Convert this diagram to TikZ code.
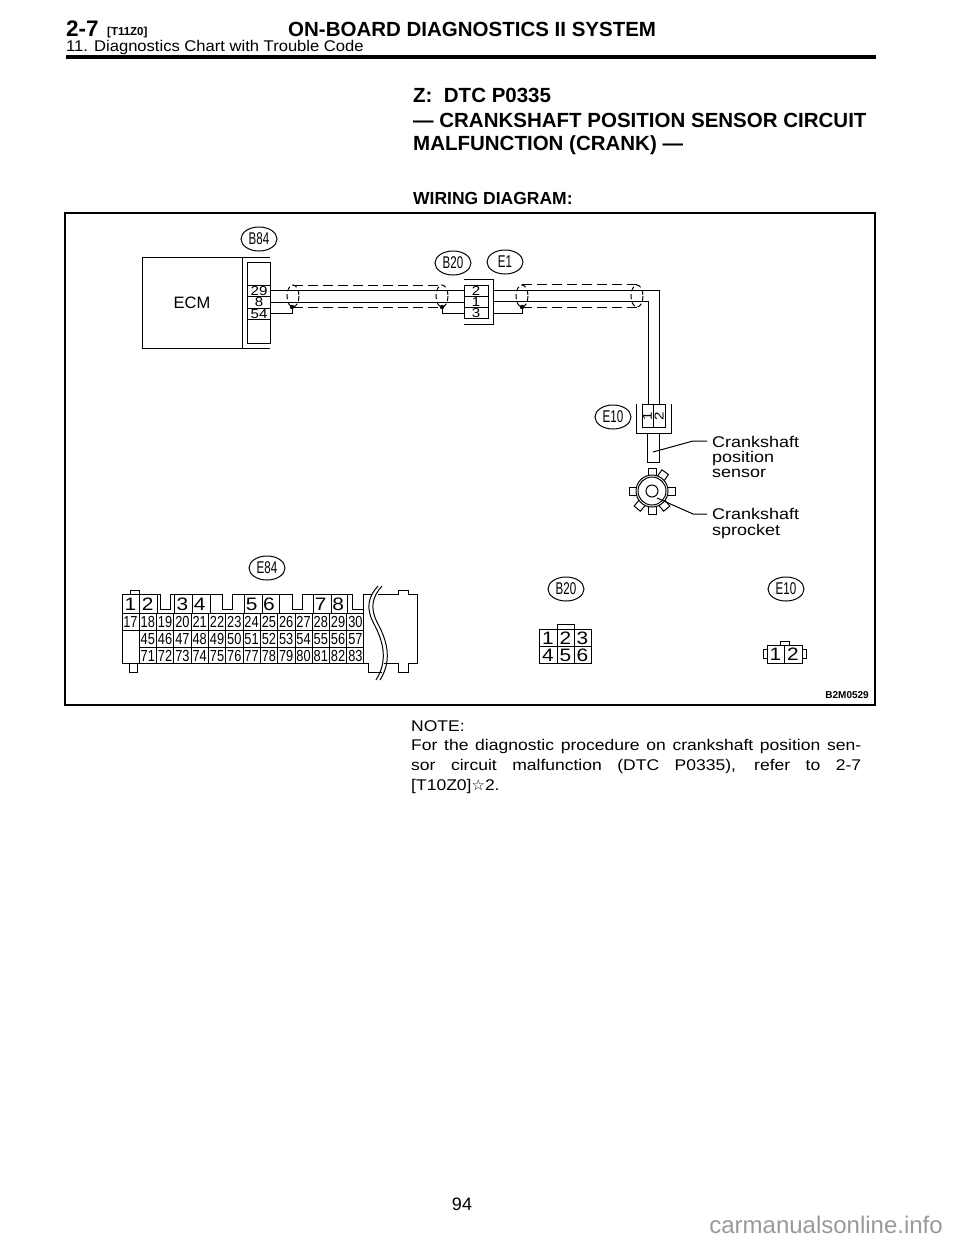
\documentclass[tikz,border=0pt]{standalone}
\usepackage{fontspec}
\setmainfont{Liberation Sans}
\newfontfamily\widefont[FakeStretch=1.16]{Liberation Sans}
\newfontfamily\pinfont[FakeStretch=0.8]{Liberation Sans}
\newfontfamily\tagfont[FakeStretch=0.68]{Liberation Sans}
\newfontfamily\notefont[FakeStretch=1.13]{Liberation Sans}
\newfontfamily\subfont[FakeStretch=1.07]{Liberation Sans}
\newfontfamily\symfont{DejaVu Sans}
\usetikzlibrary{shapes.geometric}
\tikzset{
  wire/.style={line width=1pt},
  shield/.style={line width=1pt, dash pattern=on 10pt off 5pt},
  shieldring/.style={line width=1pt, dash pattern=on 5pt off 3pt},
  tagoval/.style={draw, ellipse, line width=1pt, minimum width=36pt, minimum height=24pt, inner sep=0pt, font=\tagfont\fontsize{17}{17}\selectfont},
  pinlabel/.style={anchor=base, inner sep=0pt, font=\pinfont\fontsize{16}{16}\selectfont},
  ecmlabel/.style={anchor=base, inner sep=0pt, font=\widefont\fontsize{13}{13}\selectfont},
  biglabel/.style={anchor=base, inner sep=0pt, font=\widefont\fontsize{18}{18}\selectfont},
  sidetext/.style={anchor=base west, inner sep=0pt, font=\widefont\fontsize{15.5}{15}\selectfont},
  headtext/.style={anchor=base west, inner sep=0pt, font=\bfseries\fontsize{20.5}{20}\selectfont},
  notetext/.style={anchor=base west, inner sep=0pt, font=\notefont\fontsize{15.5}{15}\selectfont},
}
\begin{document}
\begin{tikzpicture}[x=1pt, y=-1pt]
\useasboundingbox (0,0) rectangle (960,1242);
% page head
\node[anchor=base west, inner sep=0pt, font=\bfseries\fontsize{22.5}{22}\selectfont] (secnum) at (66,36) {2-7};
\node[anchor=base west, inner sep=0pt, font=\bfseries\fontsize{11.5}{11}\selectfont] (secref) at (107,35) {[T11Z0]};
\node[headtext] (headline) at (288,36) {ON-BOARD DIAGNOSTICS II SYSTEM};
\node[anchor=base west, inner sep=0pt, font=\subfont\fontsize{15.5}{15}\selectfont] (subhead) at (66,51) {11. Diagnostics Chart with Trouble Code};
\draw[line width=3.5pt] (66,57) -- (876,57);
\node[headtext] (ztitle) at (413,102) {Z:\ \ DTC P0335};
\node[headtext] (ztitleb) at (413,127) {— CRANKSHAFT POSITION SENSOR CIRCUIT};
\node[headtext] (ztitlec) at (413,150) {MALFUNCTION (CRANK) —};
\node[anchor=base west, inner sep=0pt, font=\bfseries\fontsize{17.5}{17}\selectfont] (wirehead) at (413,204) {WIRING DIAGRAM:};
\draw[line width=1.2pt] (65,213) rectangle (875,705);
% ecm
\draw[wire] (270,257) -- (142,257) -- (142,348) -- (270,348);
\draw[wire] (242,257) -- (242,348);
\draw[wire] (247,262) rectangle (270,343);
\draw[wire] (247,285) -- (270,285);
\draw[wire] (247,296) -- (270,296);
\draw[wire] (247,308) -- (270,308);
\draw[wire] (247,319) -- (270,319);
\node[font=\fontsize{16.5}{15}\selectfont, inner sep=0pt] (ecm) at (192,303) {ECM};
\node[ecmlabel] (ecmp) at (259,295) {29};
\node[ecmlabel] (ecmq) at (259,306.5) {8};
\node[ecmlabel] (ecmr) at (259,318) {54};
\node[tagoval] (tagb) at (259,239) {B84};
\node[tagoval] (tagc) at (453,263) {B20};
\node[tagoval] (tagd) at (505,262) {E1};
\node[tagoval] (tage) at (613,417) {E10};
% harness
\coordinate (ecmtop) at (270,290);
\coordinate (ecmmid) at (270,302);
\coordinate (ecmlow) at (270,313);
\coordinate (jointop) at (464,290);
\coordinate (joinmid) at (464,302);
\coordinate (joinlow) at (464,313);
\draw[wire] (ecmtop) -- (jointop);
\draw[wire] (ecmmid) -- (joinmid);
\draw[wire] (ecmlow) -- (292,313) -- (292,307);
\draw[fill] (292,307) circle (2pt);
\draw[wire] (joinlow) -- (442,313) -- (442,307);
\draw[fill] (442,307) circle (2pt);
\draw[shield] (293,285) -- (440,285);
\draw[shield] (293,307) -- (440,307);
\draw[shieldring] (293,296) ellipse (6 and 11);
\draw[shieldring] (442,296) ellipse (6 and 11);
% joint
\draw[wire] (464,279) -- (493,279) -- (493,324) -- (464,324);
\draw[wire] (464,285) rectangle (488,318);
\draw[wire] (464,296) -- (488,296);
\draw[wire] (464,307) -- (488,307);
\node[ecmlabel] (joina) at (476,295) {2};
\node[ecmlabel] (joinb) at (476,306) {1};
\node[ecmlabel] (joinc) at (476,317.5) {3};
\coordinate (bendtop) at (659,290);
\coordinate (bendmid) at (648,301);
\draw[wire] (493,290) -- (bendtop) -- (659,404);
\draw[wire] (493,301) -- (bendmid) -- (648,404);
\draw[wire] (493,313) -- (522,313) -- (522,307);
\draw[fill] (522,307) circle (2pt);
\draw[shield] (522,284) -- (637,284);
\draw[shield] (522,307) -- (637,307);
\draw[shieldring] (522,296) ellipse (6 and 11);
\draw[shieldring] (637,296) ellipse (6 and 11);
% sensor
\draw[wire] (636,404) -- (636,433) -- (671,433) -- (671,404);
\draw[wire] (642,404) rectangle (665,427);
\draw[wire] (653,404) -- (653,427);
\node[inner sep=0pt, rotate=90, font=\widefont\fontsize{13}{13}\selectfont] (sensa) at (647.5,416) {1};
\node[inner sep=0pt, rotate=90, font=\widefont\fontsize{13}{13}\selectfont] (sensb) at (659,416) {2};
\draw[wire] (647,433) rectangle (659,462);
\coordinate (sensorend) at (653,452);
\coordinate (sprocketend) at (657,498);
\node[sidetext] (sensortext) at (712,447) {Crankshaft};
\node[sidetext] (sensortextb) at (712,462) {position};
\node[sidetext] (sensortextc) at (712,477) {sensor};
\node[sidetext] (sprockettext) at (712,519) {Crankshaft};
\node[sidetext] (sprockettextb) at (712,535) {sprocket};
\foreach \ang in {0,55,90,180,230,270,310}
  \draw[wire, rotate around={\ang:(652,491)}] (666,487) -- (675,487) -- (675,495) -- (666,495);
\draw[wire, fill=white] (652,491) circle (16pt);
\draw[wire] (652,491) circle (14pt);
\draw[wire] (652,491) circle (6pt);
\draw[wire] (sensorend) -- (693,441) -- (707,441);
\draw[wire] (sprocketend) -- (693,514) -- (707,514);
% e84 plug
\node[tagoval] (tagf) at (267,568) {E84};
\draw[wire] (122,663) -- (122,594) -- (160,594) -- (160,609) -- (170,609) -- (170,594)
  -- (222,594) -- (222,609) -- (232,609) -- (232,594)
  -- (292,594) -- (292,609) -- (302,609) -- (302,594)
  -- (352,594) -- (352,609) -- (363,609) -- (363,594) -- (372,594);
\draw[wire] (130,594) -- (130,590) -- (139,590) -- (139,594);
\draw[wire] (129,663) -- (129,672) -- (137,672) -- (137,663);
\draw[wire] (122,663) -- (368,663) -- (368,672) -- (382,672);
\draw[wire] (378,594) -- (398,594) -- (398,590) -- (408,590) -- (408,594) -- (417,594)
  -- (417,663) -- (408,663) -- (408,672) -- (398,672) -- (398,663) -- (384,663);
\draw[wire] (122,613) -- (363,613);
\draw[wire] (122,630) -- (363,630);
\draw[wire] (139,647) -- (363,647);
\draw[wire] (139,630) -- (139,663);
\draw[wire] (363,594) -- (363,663);
\foreach \xb in {139,157,174,192,210,244,262,279,313,331,347}
  \draw[wire] (\xb,594) -- (\xb,613);
\foreach \lab/\idx in {1/0,2/1,3/3,4/4,5/7,6/8,7/11,8/12}
  \node[biglabel] (plug\lab) at (130.5+\idx*17.3,610.5) {\lab};
\foreach \col [count=\idx from 0] in {17,18,19,20,21,22,23,24,25,26,27,28,29,30} {
  \node[pinlabel] (plugb\idx) at (130.5+\idx*17.3,627) {\col};
  \ifnum\idx>0
    \draw[wire] (122+\idx*17.3,613) -- (122+\idx*17.3,630);
  \fi
}
\foreach \col [count=\idx from 1] in {45,46,47,48,49,50,51,52,53,54,55,56,57} {
  \node[pinlabel] (plugc\idx) at (130.5+\idx*17.3,644) {\col};
  \draw[wire] (122+\idx*17.3,630) -- (122+\idx*17.3,663);
}
\foreach \col [count=\idx from 1] in {71,72,73,74,75,76,77,78,79,80,81,82,83}
  \node[pinlabel] (plugd\idx) at (130.5+\idx*17.3,661) {\col};
\foreach \off in {0,4}
  \draw[wire] (378+\off,586) .. controls (368+\off,597) and (366+\off,608) .. (373+\off,622)
    .. controls (381+\off,637) and (390+\off,658) .. (376+\off,680);
% b20 plug
\node[tagoval] (tagg) at (566,589) {B20};
\draw[wire] (539,629) rectangle (591,663);
\draw[wire] (539,646) -- (591,646);
\draw[wire] (557,629) -- (557,663);
\draw[wire] (574,629) -- (574,663);
\draw[wire] (557,629) -- (557,624) -- (574,624) -- (574,629);
\foreach \lab/\xp/\yp in {1/548/644,2/565.5/644,3/582.5/644,4/548/661,5/565.5/661,6/582.5/661}
  \node[biglabel] (bplug\lab) at (\xp,\yp) {\lab};
% e10 plug
\node[tagoval] (tagh) at (786,589) {E10};
\draw[wire] (767,645) rectangle (802,663);
\draw[wire] (784,645) -- (784,663);
\draw[wire] (780,645) -- (780,641) -- (789,641) -- (789,645);
\draw[wire] (767,649) -- (763,649) -- (763,658) -- (767,658);
\draw[wire] (802,649) -- (806,649) -- (806,658) -- (802,658);
\node[biglabel] (eplug1) at (775.5,660.5) {1};
\node[biglabel] (eplug2) at (793,660.5) {2};
\node[anchor=base east, inner sep=0pt, font=\bfseries\fontsize{10}{10}\selectfont] (figcode) at (869,698) {B2M0529};
% note
\node[notetext] (notehead) at (411,731) {NOTE:};
\node[notetext] (notea) at (411,750) {\makebox[450pt][s]{For the diagnostic procedure on crankshaft position sen-}};
\node[notetext] (noteb) at (411,770) {\makebox[450pt][s]{sor circuit malfunction (DTC P0335), refer to 2-7}};
\node[notetext] (notec) at (411,790) {[T10Z0]{\symfont\fontsize{15}{15}\selectfont ☆}2.};
\node[inner sep=0pt, font=\fontsize{18}{18}\selectfont] (pagenum) at (462,1204) {94};
\node[anchor=base east, inner sep=0pt, text=black!40, font=\fontsize{24}{24}\selectfont] (sitemark) at (943,1233) {carmanualsonline.info};
\end{tikzpicture}
\end{document}
